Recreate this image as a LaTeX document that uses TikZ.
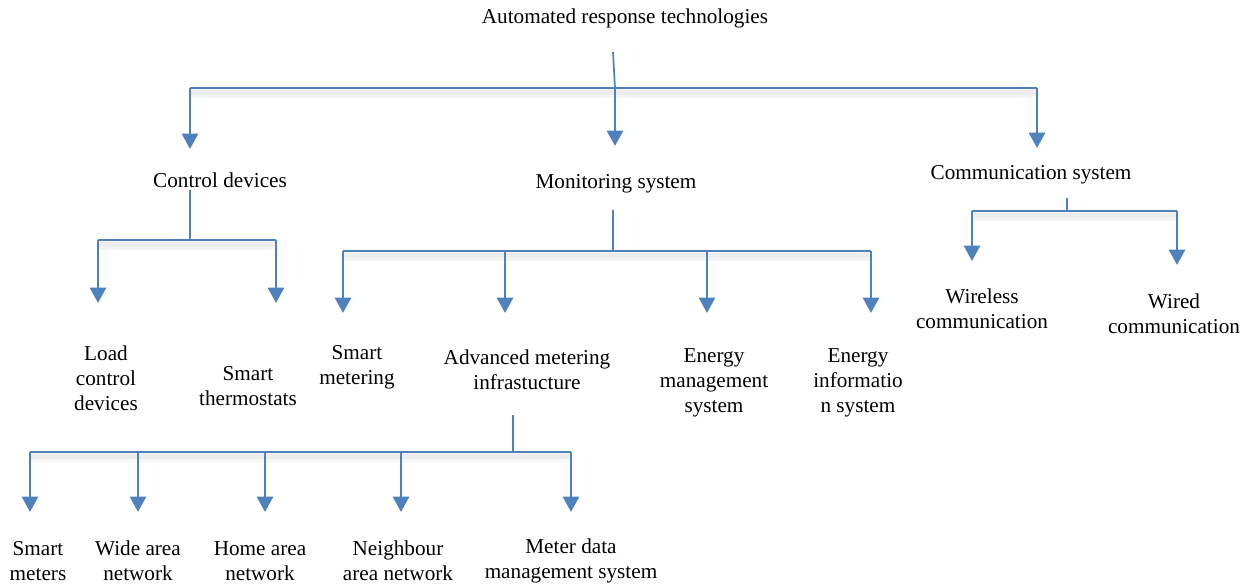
\documentclass[tikz,border=0pt]{standalone}
\usepackage{fontspec}
\setmainfont{Liberation Serif}
\usetikzlibrary{arrows.meta}
\definecolor{linkblue}{HTML}{4F81BD}
\begin{document}
\begin{tikzpicture}[x=0.75pt,y=-0.75pt,
  lbl/.style={align=center, inner sep=0pt, font=\fontsize{15.9}{18.75}\selectfont},
  link/.style={draw=linkblue, line width=2.1pt},
  stub/.style={draw=linkblue, line width=1.3pt},
  arr/.style={link, -{Triangle[width=12pt,length=11.5pt]}},
  barshade/.style={draw=black, opacity=0.035, line width=#1},
  barshade/.default=6pt]
\useasboundingbox (0,0) rectangle (1250,585);

% labels
\node[lbl] (root) at (625,18) {Automated response technologies};
\node[lbl] (ctrl) at (220,180) {Control devices};
\node[lbl] (mon) at (616,184) {Monitoring system};
\node[lbl] (comm) at (1031,175) {Communication system};
\node[lbl] (load) at (106,378) {Load\\control\\devices};
\node[lbl] (thermo) at (248,386) {Smart\\thermostats};
\node[lbl] (smet) at (357,367) {Smart\\metering};
\node[lbl] (ami) at (527,370) {Advanced metering\\infrastucture};
\node[lbl] (ems) at (714,383) {Energy\\management\\system};
\node[lbl] (eis) at (858,383) {Energy\\informatio\\n system};
\node[lbl] (wless) at (982,309) {Wireless\\communication};
\node[lbl] (wired) at (1174,314) {Wired\\communication};
\node[lbl] (smeters) at (38,561) {Smart\\meters};
\node[lbl] (wan) at (138,561) {Wide area\\network};
\node[lbl] (han) at (260,561) {Home area\\network};
\node[lbl] (nan) at (398,561) {Neighbour\\area network};
\node[lbl] (mdms) at (571,561) {Meter data\\management system};

% junction points and arrow tips
\coordinate (rootS) at (613,52);  \coordinate (rootJ) at (615,88);
\coordinate (rootL) at (190,88);  \coordinate (rootR) at (1037,88);
\coordinate (tCtrl) at (190,149); \coordinate (tMon) at (615,146); \coordinate (tComm) at (1037,148);

\coordinate (ctrlS) at (190,190); \coordinate (ctrlJ) at (190,240);
\coordinate (ctrlL) at (98,240);  \coordinate (ctrlR) at (276,240);
\coordinate (tLoad) at (98,303);  \coordinate (tThermo) at (276,303);

\coordinate (monS) at (613,210);  \coordinate (monJ) at (613,251);
\coordinate (monL) at (343,251);  \coordinate (monR) at (871,251);
\coordinate (monB) at (505,251);  \coordinate (monC) at (707,251);
\coordinate (tSmet) at (343,313); \coordinate (tAmi) at (505,313);
\coordinate (tEms) at (707,313);  \coordinate (tEis) at (871,313);

\coordinate (commS) at (1067,198); \coordinate (commJ) at (1067,211);
\coordinate (commL) at (972,211);  \coordinate (commR) at (1177,211);
\coordinate (tWless) at (972,261); \coordinate (tWired) at (1177,265);

\coordinate (amiS) at (513,415);  \coordinate (amiJ) at (513,452);
\coordinate (amiL) at (30,452);   \coordinate (amiR) at (571,452);
\coordinate (amiB) at (138,452);  \coordinate (amiC) at (265,452); \coordinate (amiD) at (401,452);
\coordinate (tSmeters) at (30,512); \coordinate (tWan) at (138,512); \coordinate (tHan) at (265,512);
\coordinate (tNan) at (401,512);    \coordinate (tMdms) at (571,512);

% soft shadows under the bars
\foreach \a/\b in {rootL/rootR, ctrlL/ctrlR, monL/monR, commL/commR, amiL/amiR} {
  \draw[barshade=7pt] ([yshift=-4pt]\a) -- ([yshift=-4pt]\b);
  \draw[barshade=4pt] ([yshift=-3.5pt]\a) -- ([yshift=-3.5pt]\b);
}

% root level
\draw[stub] (rootS) -- (rootJ);
\draw[link] (rootL) -- (rootR);
\draw[arr] (rootL) -- (tCtrl);
\draw[arr] (rootJ) -- (tMon);
\draw[arr] (rootR) -- (tComm);

% control devices
\draw[stub] (ctrlS) -- (ctrlJ);
\draw[link] (ctrlL) -- (ctrlR);
\draw[arr] (ctrlL) -- (tLoad);
\draw[arr] (ctrlR) -- (tThermo);

% monitoring system
\draw[stub] (monS) -- (monJ);
\draw[link] (monL) -- (monR);
\draw[arr] (monL) -- (tSmet);
\draw[arr] (monB) -- (tAmi);
\draw[arr] (monC) -- (tEms);
\draw[arr] (monR) -- (tEis);

% communication system
\draw[stub] (commS) -- (commJ);
\draw[link] (commL) -- (commR);
\draw[arr] (commL) -- (tWless);
\draw[arr] (commR) -- (tWired);

% advanced metering infrastructure
\draw[stub] (amiS) -- (amiJ);
\draw[link] (amiL) -- (amiR);
\draw[arr] (amiL) -- (tSmeters);
\draw[arr] (amiB) -- (tWan);
\draw[arr] (amiC) -- (tHan);
\draw[arr] (amiD) -- (tNan);
\draw[arr] (amiR) -- (tMdms);
\end{tikzpicture}
\end{document}
